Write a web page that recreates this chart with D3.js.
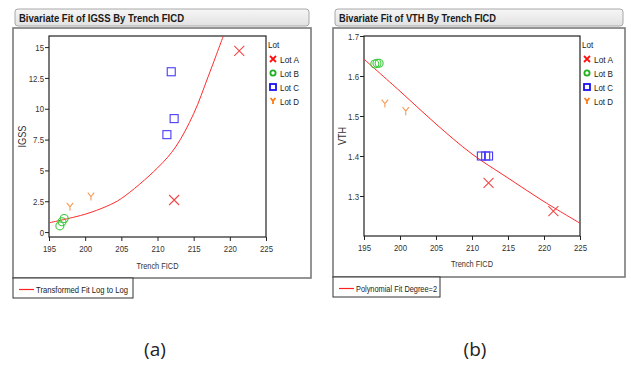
<!DOCTYPE html>
<html><head><meta charset="utf-8">
<script src="https://cdn.jsdelivr.net/npm/d3@7"></script>
<style>
html,body{margin:0;padding:0;background:#fff;}
svg text{font-family:"Liberation Sans",Arial,sans-serif;}
</style></head><body>
<svg id="c" width="631" height="367"></svg>
<script>
// ---- data ----
const lots = ["Lot A", "Lot B", "Lot C", "Lot D"];
const xTicks = [195, 200, 205, 210, 215, 220, 225];
const igssTicks = [0, 2.5, 5, 7.5, 10, 12.5, 15];
const vthTicks = [1.3, 1.4, 1.5, 1.6, 1.7];

const ficdA = [212.3, 221.3];
const ficdB = [196.5, 196.8, 197.1];
const ficdC = [211.3, 211.9, 212.3];
const ficdD = [197.9, 200.8];

const igssA = [2.6, 14.7];
const igssB = [0.5, 0.84, 1.1];
const igssC = [7.9, 13.0, 9.2];
const igssD = [2.05, 2.88];

const vthA = [1.333, 1.262];
const vthB = [1.630, 1.632, 1.632];
const vthC = [1.400, 1.400, 1.400];
const vthD = [1.531, 1.512];

const fitIgssX = [195, 200, 203, 205, 210, 212.5, 215, 217, 219.1];
const fitIgssY = [0.75, 1.45, 2.1, 2.72, 5.2, 6.9, 9.6, 12.6, 15.9];
const fitVthX = [195, 200, 205, 210, 215, 220, 225];
const fitVthY = [1.642, 1.562, 1.480, 1.405, 1.345, 1.286, 1.232];

const titles = ["Bivariate Fit of IGSS By Trench FICD", "Bivariate Fit of VTH By Trench FICD"];
const yTitles = ["IGSS", "VTH"];
const fitLabels = ["Transformed Fit Log to Log", "Polynomial Fit Degree=2"];
const captions = ["(a)", "(b)"];

// ---- styles ----
const markColor = {"Lot A": "#f04a4a", "Lot B": "#3cc83c", "Lot C": "#4a3cf5", "Lot D": "#f79a55"};
const legColor = {"Lot A": "#ff1010", "Lot B": "#20b020", "Lot C": "#1a10f0", "Lot D": "#ff7a10"};

const svg = d3.select("#c");

// compress text horizontally (narrow-font look)
function narrow(sel, factor, fixed) {
  sel.each(function () {
    const w = fixed || this.getComputedTextLength() * factor;
    d3.select(this).attr("textLength", w).attr("lengthAdjust", "spacingAndGlyphs");
  });
  return sel;
}

function marker(g, lot, x, y, s, color, w) {
  if (lot === "Lot A") {
    g.append("path").attr("d", `M${x-s},${y-s}L${x+s},${y+s}M${x-s},${y+s}L${x+s},${y-s}`)
      .attr("stroke", color).attr("stroke-width", w).attr("fill", "none");
  } else if (lot === "Lot B") {
    g.append("circle").attr("cx", x).attr("cy", y).attr("r", s)
      .attr("stroke", color).attr("stroke-width", w).attr("fill", "none");
  } else if (lot === "Lot C") {
    g.append("rect").attr("x", x-s).attr("y", y-s).attr("width", 2*s).attr("height", 2*s)
      .attr("stroke", color).attr("stroke-width", w).attr("fill", "none");
  } else {
    g.append("path").attr("d", `M${x-s*0.8},${y-s}L${x},${y}L${x+s*0.8},${y-s}M${x},${y}L${x},${y+s}`)
      .attr("stroke", color).attr("stroke-width", w).attr("fill", "none");
  }
}

function panel(cfg) {
  const g = svg.append("g");
  // title bar
  const tg = g.append("linearGradient").attr("id", "tg" + cfg.i).attr("x1", 0).attr("x2", 0).attr("y1", 0).attr("y2", 1);
  tg.append("stop").attr("offset", 0).attr("stop-color", "#f6f6f6");
  tg.append("stop").attr("offset", 1).attr("stop-color", "#e2e2e2");
  g.append("rect").attr("x", cfg.bx + 2).attr("y", 9).attr("width", cfg.bw - 4).attr("height", 17)
    .attr("rx", 3).attr("fill", `url(#tg${cfg.i})`).attr("stroke", "#a8a8a8");
  narrow(g.append("text").attr("x", cfg.bx + 6).attr("y", 21.5).attr("font-size", 11.5).attr("font-weight", "bold")
    .attr("fill", "#1a1a1a").text(cfg.title), 0, cfg.titleW);
  // outer box
  g.append("rect").attr("x", cfg.bx).attr("y", 28).attr("width", cfg.bw).attr("height", cfg.bh)
    .attr("fill", "#fff").attr("stroke", "#7a7a7a").attr("stroke-width", 1.6);

  const x = d3.scaleLinear().domain([195, 225]).range([cfg.px0, cfg.px1]);
  const y = d3.scaleLinear().domain(cfg.ydom).range([cfg.py1, cfg.py0]);

  const xa = g.append("g").attr("transform", `translate(0,${cfg.py1})`)
    .call(d3.axisBottom(x).tickValues(xTicks).tickSize(4).tickSizeOuter(0).tickFormat(d3.format("d")));
  const ya = g.append("g").attr("transform", `translate(${cfg.px0},0)`)
    .call(d3.axisLeft(y).tickValues(cfg.yticks).tickSize(4).tickSizeOuter(0).tickFormat(d => String(d)));
  [xa, ya].forEach(a => {
    a.select(".domain").remove();
    a.selectAll("line").attr("stroke", "#222");
    a.selectAll("text").attr("font-size", 9.8).attr("fill", "#333")
      .style("font-family", '"Liberation Sans",Arial,sans-serif');
    narrow(a.selectAll("text"), 0.8);
  });
  ya.selectAll("text").attr("x", -5);
  xa.selectAll("text").attr("y", 8);

  // frame
  g.append("rect").attr("x", cfg.px0).attr("y", cfg.py0).attr("width", cfg.px1 - cfg.px0)
    .attr("height", cfg.py1 - cfg.py0).attr("fill", "none").attr("stroke", "#222").attr("stroke-width", 1.2);

  // axis titles
  narrow(g.append("text").attr("x", (cfg.px0 + cfg.px1) / 2).attr("y", cfg.xtY).attr("text-anchor", "middle")
    .attr("font-size", 9.5).attr("fill", "#333").text("Trench FICD"), 0, 42);
  narrow(g.append("text").attr("transform", `translate(${cfg.ytX},${(cfg.py0 + cfg.py1) / 2}) rotate(-90)`)
    .attr("text-anchor", "middle").attr("font-size", 10.5).attr("fill", "#333").text(cfg.ytitle), 0, cfg.ytW);

  // clip
  const cid = "clip" + cfg.i;
  g.append("clipPath").attr("id", cid).append("rect").attr("x", cfg.px0).attr("y", cfg.py0)
    .attr("width", cfg.px1 - cfg.px0).attr("height", cfg.py1 - cfg.py0);
  const pg = g.append("g").attr("clip-path", `url(#${cid})`);

  // fit line
  const fitData = cfg.fitX.map((d, k) => [d, cfg.fitY[k]]);
  pg.append("path").datum(fitData)
    .attr("d", d3.line().x(d => x(d[0])).y(d => y(d[1])).curve(d3.curveCatmullRom))
    .attr("fill", "none").attr("stroke", "#ff2a2a").attr("stroke-width", 1);

  // points
  cfg.series.forEach(s => {
    s.xs.forEach((xv, k) => {
      const sz = s.lot === "Lot A" ? 5 : 4;
      marker(pg, s.lot, x(xv), y(s.ys[k]), sz, markColor[s.lot], 1.1);
    });
  });

  // legend on right
  narrow(g.append("text").attr("x", cfg.lx - 5).attr("y", 48).attr("font-size", 9.5).attr("fill", "#222").text("Lot"), 0.85);
  lots.forEach((l, k) => {
    const yy = 59 + k * 14;
    marker(g, l, cfg.lx, yy, l === "Lot B" ? 2.6 : 3, legColor[l], 1.8);
    narrow(g.append("text").attr("x", cfg.lx + 7).attr("y", yy + 3.5).attr("font-size", 9.5).attr("fill", "#222").text(l), 0, 19);
  });

  // fit legend box below
  g.append("rect").attr("x", cfg.bx).attr("y", 28 + cfg.bh).attr("width", cfg.fw).attr("height", 20)
    .attr("fill", "#fff").attr("stroke", "#333").attr("stroke-width", 1);
  g.append("line").attr("x1", cfg.bx + 6).attr("x2", cfg.bx + 21).attr("y1", 28 + cfg.bh + 11.5).attr("y2", 28 + cfg.bh + 11.5)
    .attr("stroke", "#ff2020").attr("stroke-width", 1.2);
  narrow(g.append("text").attr("x", cfg.bx + 23).attr("y", 28 + cfg.bh + 15).attr("font-size", 9.5).attr("fill", "#222")
    .text(cfg.fitLabel), 0, cfg.fitW);

  // caption
  svg.append("text").attr("x", cfg.capX).attr("y", 356).attr("text-anchor", "middle")
    .attr("font-size", 19).attr("fill", "#222").style("font-family", '"Open Sans","Liberation Sans",sans-serif')
    .text(cfg.caption);
}

panel({
  i: 0, bx: 13, bw: 298, bh: 250, fw: 120, titleW: 165, fitW: 92, ytW: 22,
  px0: 49, px1: 266, py0: 36, py1: 237, ydom: [-0.4, 15.9], yticks: igssTicks,
  xtY: 269, ytX: 26, ytitle: yTitles[0], title: titles[0],
  lx: 273, fitX: fitIgssX, fitY: fitIgssY, fitLabel: fitLabels[0], caption: captions[0], capX: 155,
  series: [
    {lot: "Lot A", xs: ficdA, ys: igssA},
    {lot: "Lot B", xs: ficdB, ys: igssB},
    {lot: "Lot C", xs: ficdC, ys: igssC},
    {lot: "Lot D", xs: ficdD, ys: igssD}
  ]
});
panel({
  i: 1, bx: 333, bw: 292, bh: 249, fw: 107, titleW: 157, fitW: 81, ytW: 18,
  px0: 364, px1: 580, py0: 36, py1: 236, ydom: [1.2, 1.7], yticks: vthTicks,
  xtY: 267, ytX: 346, ytitle: yTitles[1], title: titles[1],
  lx: 587, fitX: fitVthX, fitY: fitVthY, fitLabel: fitLabels[1], caption: captions[1], capX: 475,
  series: [
    {lot: "Lot A", xs: ficdA, ys: vthA},
    {lot: "Lot B", xs: ficdB, ys: vthB},
    {lot: "Lot C", xs: ficdC, ys: vthC},
    {lot: "Lot D", xs: ficdD, ys: vthD}
  ]
});
</script>
</body></html>
